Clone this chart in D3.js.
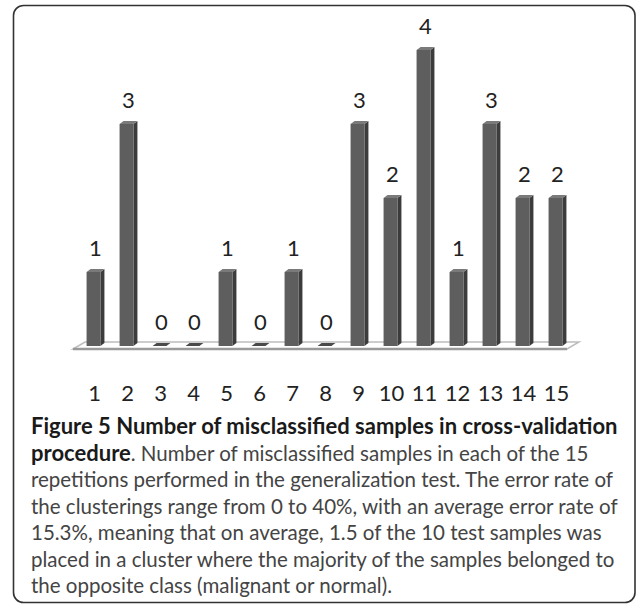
<!DOCTYPE html>
<html>
<head>
<meta charset="utf-8">
<script src="https://cdn.jsdelivr.net/npm/d3@7"></script>
<style>
  body { margin: 0; background: #fff; }
  svg { display: block; }
</style>
</head>
<body>
<svg class="svg"></svg>
<script>
const svgWidth = 637;
const svgHeight = 604;

const svg = d3.select(".svg")
    .attr("width", svgWidth)
    .attr("height", svgHeight);

// data
const repetitions = ["1", "2", "3", "4", "5", "6", "7", "8", "9", "10", "11", "12", "13", "14", "15"];
const misclassified = [1, 3, 0, 0, 1, 0, 1, 0, 3, 2, 4, 1, 3, 2, 2];
const captionBold = ["Figure 5 Number of misclassified samples in cross-validation", "procedure"];
const captionLines = [
    "",
    ". Number of misclassified samples in each of the 15",
    "repetitions performed in the generalization test. The error rate of",
    "the clusterings range from 0 to 40%, with an average error rate of",
    "15.3%, meaning that on average, 1.5 of the 10 test samples was",
    "placed in a cluster where the majority of the samples belonged to",
    "the opposite class (malignant or normal)."
];

const font = "Lato, 'Open Sans', sans-serif";

// frame round the whole figure
svg.append("rect")
    .attr("x", 13.5)
    .attr("y", 5.5)
    .attr("width", 621.5)
    .attr("height", 597)
    .attr("rx", 10)
    .attr("fill", "none")
    .attr("stroke", "#333")
    .attr("stroke-width", 1.6);

const xScale = d3.scaleBand()
    .domain(repetitions)
    .range([77, 572])
    .paddingInner(0.58)
    .paddingOuter(0.29);

const yScale = d3.scaleLinear()
    .domain([0, 4])
    .range([346, 50]);

const depthX = 4;   // 3d offset of bars
const depthY = 3;

// floor of the 3d plot
const floorY = yScale(0);
const floorPts = [
    [73, floorY + 3],
    [567, floorY + 3],
    [579, floorY - 4],
    [85, floorY - 4]
];
svg.append("polygon")
    .attr("points", floorPts.map(p => p.join(",")).join(" "))
    .attr("fill", "#fff")
    .attr("stroke", "#bdbdbd")
    .attr("stroke-width", 1.5);
svg.append("line")
    .attr("x1", 73).attr("x2", 567)
    .attr("y1", floorY + 3).attr("y2", floorY + 3)
    .attr("stroke", "#9a9a9a")
    .attr("stroke-width", 2.5);

const bars = svg.selectAll("g.bar")
    .data(misclassified)
    .enter()
    .append("g")
    .attr("class", "bar");

// side face
bars.append("polygon")
    .attr("points", function (d, i) {
        const x = xScale(repetitions[i]) + xScale.bandwidth();
        const y = yScale(d);
        return [[x, y], [x + depthX, y - depthY], [x + depthX, floorY - depthY], [x, floorY]]
            .map(p => p.join(",")).join(" ");
    })
    .attr("fill", "#3c3c3c");

// top face
bars.append("polygon")
    .attr("points", function (d, i) {
        const x = xScale(repetitions[i]);
        const w = xScale.bandwidth();
        const y = yScale(d);
        return [[x, y], [x + depthX, y - depthY], [x + w + depthX, y - depthY], [x + w, y]]
            .map(p => p.join(",")).join(" ");
    })
    .attr("fill", function (d) { return d === 0 ? "#4a4a4a" : "#7a7a7a"; });

// front face
bars.append("rect")
    .attr("x", function (d, i) { return xScale(repetitions[i]); })
    .attr("y", function (d) { return yScale(d); })
    .attr("width", xScale.bandwidth())
    .attr("height", function (d) { return floorY - yScale(d); })
    .attr("fill", "#5e5e5e");

// value labels above the bars
svg.selectAll("text.value")
    .data(misclassified)
    .enter()
    .append("text")
    .attr("class", "value")
    .attr("x", function (d, i) { return xScale(repetitions[i]) + xScale.bandwidth() / 2 + 2; })
    .attr("y", function (d) { return yScale(d) - 16; })
    .attr("text-anchor", "middle")
    .attr("font-family", font)
    .attr("font-size", 22)
    .attr("fill", "#222")
    .text(function (d) { return d; });

// category axis, labels only
const xAxis = svg.append("g")
    .attr("transform", "translate(0," + 385 + ")")
    .call(d3.axisBottom(xScale).tickSize(0).tickPadding(0));
xAxis.select(".domain").remove();
xAxis.selectAll("text")
    .attr("font-family", font)
    .attr("font-size", 22)
    .attr("fill", "#222")
    .attr("dy", "0.71em")
    .attr("dx", 1);

// caption
const caption = svg.append("text")
    .attr("font-family", font)
    .attr("fill", "#444");

const boldSpans = [];
const plainSpans = [];
captionLines.forEach(function (line, i) {
    const t = caption.append("tspan")
        .attr("x", 31)
        .attr("y", 434 + i * 26.5);
    if (captionBold[i]) {
        boldSpans.push(t.append("tspan")
            .attr("font-weight", "bold")
            .attr("fill", "#1a1a1a")
            .text(captionBold[i]));
    }
    plainSpans.push(t.append("tspan").text(line));
});

// fit caption sizes to the widths seen in the figure
boldSpans.forEach(s => s.attr("font-size", 18));
plainSpans.forEach(s => s.attr("font-size", 18));
const wBold = boldSpans[0].node().getComputedTextLength();
const wPlain = plainSpans[3].node().getComputedTextLength();
boldSpans.forEach(s => s.attr("font-size", 18 * 587 / wBold));
plainSpans.forEach(s => s.attr("font-size", 18 * 587 / wPlain));
</script>
</body>
</html>
